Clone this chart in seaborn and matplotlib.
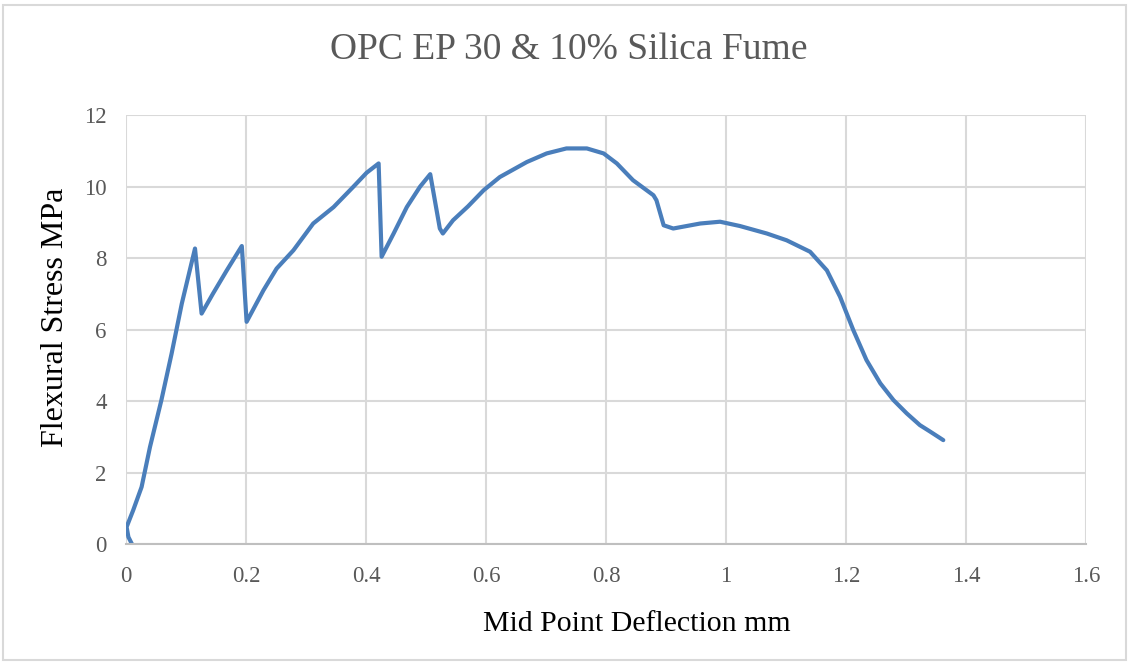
import matplotlib
matplotlib.use("Agg")
import matplotlib.pyplot as plt
import seaborn as sns
import pandas as pd
from matplotlib.patches import Rectangle

# valeurs
deflection = [0.010, 0.004, 0.001, 0.012, 0.026, 0.040, 0.059, 0.076, 0.093, 0.115,
              0.126, 0.145, 0.168, 0.193, 0.201, 0.229, 0.251, 0.279, 0.312, 0.346,
              0.379, 0.401, 0.421, 0.426, 0.446, 0.468, 0.490, 0.507, 0.523, 0.528,
              0.545, 0.570, 0.596, 0.623, 0.668, 0.701, 0.734, 0.768, 0.796, 0.818,
              0.845, 0.879, 0.884, 0.896, 0.912, 0.957, 0.990, 1.023, 1.068, 1.101,
              1.140, 1.168, 1.190, 1.212, 1.234, 1.257, 1.279, 1.301, 1.323, 1.340,
              1.362]
stress = [0.00, 0.20, 0.48, 0.95, 1.60, 2.72, 4.03, 5.33, 6.73, 8.27,
          6.45, 7.01, 7.66, 8.34, 6.22, 7.10, 7.71, 8.22, 8.97, 9.43,
          10.00, 10.39, 10.65, 8.04, 8.69, 9.43, 10.00, 10.35, 8.83, 8.69,
          9.06, 9.45, 9.90, 10.27, 10.69, 10.93, 11.07, 11.07, 10.93, 10.65,
          10.18, 9.76, 9.62, 8.92, 8.83, 8.97, 9.02, 8.90, 8.69, 8.50,
          8.18, 7.66, 6.92, 5.99, 5.15, 4.50, 4.03, 3.66, 3.33, 3.15,
          2.91]

x_ticks = [0, 0.2, 0.4, 0.6, 0.8, 1, 1.2, 1.4, 1.6]
x_labels = ["0", "0.2", "0.4", "0.6", "0.8", "1", "1.2", "1.4", "1.6"]
y_ticks = [0, 2, 4, 6, 8, 10, 12]

df = pd.DataFrame({"deflection": deflection, "stress": stress})

sns.set_style("white")
plt.rcParams['font.family'] = ['Liberation Serif', 'DejaVu Serif']

fig = plt.figure(figsize=(11.29, 6.62), dpi=100)
ax = fig.add_axes([0.1116, 0.178, 0.8504, 0.648])

sns.lineplot(data=df, x="deflection", y="stress", sort=False, estimator=None,
             color="#4a7ebb", linewidth=3, ax=ax)

ax.set_xlim(0, 1.6)
ax.set_ylim(0, 12)
ax.set_xticks(x_ticks)
ax.set_xticklabels(x_labels)
ax.set_yticks(y_ticks)
ax.grid(True, color="#d9d9d9", linewidth=1.5)
ax.set_axisbelow(True)
for side in ["top", "right", "left"]:
    ax.spines[side].set_visible(False)
ax.spines["bottom"].set_color("#bfbfbf")
ax.spines["bottom"].set_linewidth(1.5)
ax.tick_params(axis="x", length=0, labelsize=16.5, labelcolor="#595959", pad=16)
ax.tick_params(axis="y", length=0, labelsize=16.5, labelcolor="#595959", pad=14)

ax.set_xlabel("Mid Point Deflection mm", fontsize=21.5, color="black", labelpad=16)
ax.set_ylabel("Flexural Stress MPa", fontsize=23, color="black", labelpad=14)
ax.xaxis.set_label_coords(0.532, -0.155)
ax.yaxis.set_label_coords(-0.058, 0.529)
fig.text(0.504, 0.925, "OPC EP 30 & 10% Silica Fume", ha="center", va="center",
         fontsize=27, color="#595959")

fig.patches.append(Rectangle((0.003, 0.003), 0.994, 0.990, transform=fig.transFigure,
                             fill=False, edgecolor="#d9d9d9", linewidth=1.5))

plt.savefig("out.png", dpi=100)
plt.close()
